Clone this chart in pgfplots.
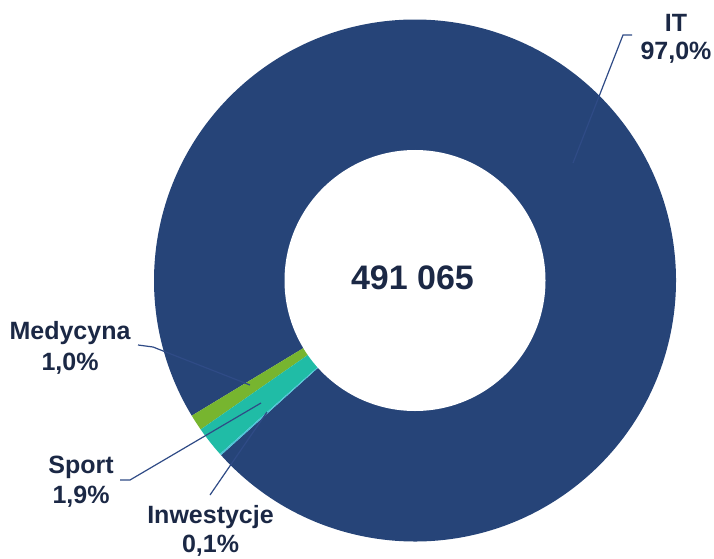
\documentclass[border=0pt]{standalone}
\usepackage{pgfplots}
\pgfplotsset{compat=1.18}
\usepackage{fontspec}
\setmainfont{Liberation Sans}

\definecolor{itblue}{HTML}{264478}
\definecolor{medgreen}{HTML}{77B52F}
\definecolor{sportteal}{HTML}{20BCA6}
\definecolor{invcyan}{HTML}{4CC4D8}
\definecolor{labeltext}{HTML}{1B2845}
\definecolor{leader}{HTML}{2F4B86}

% shares in percent, laid out counter-clockwise from the Medycyna edge
\def\pMed{1.0}
\def\pSport{1.9}
\def\pInw{0.1}
\def\pIT{97.0}
\def\aStart{211.2}
\pgfmathsetmacro\aMed{\aStart+3.6*\pMed}
\pgfmathsetmacro\aSport{\aMed+3.6*\pSport}
\pgfmathsetmacro\aInw{\aSport+3.6*\pInw}
\pgfmathsetmacro\aIT{\aInw+3.6*\pIT}

\def\Rout{261pt}
\def\Rin{130.5pt}

\begin{document}
\begin{tikzpicture}
\begin{axis}[
    width=714pt, height=558pt,
    scale only axis,
    xmin=0, xmax=714,
    ymin=0, ymax=558,
    hide axis,
    clip=false,
]
\addplot[draw=none] coordinates {(0,0)(714,558)};

% ring slices
\fill[itblue] (axis cs:415,277.5) -- ++(\aInw:\Rout)
    arc[start angle=\aInw, end angle=\aIT, radius=\Rout] -- cycle;
\fill[medgreen] (axis cs:415,277.5) -- ++(\aStart:\Rout)
    arc[start angle=\aStart, end angle=\aMed, radius=\Rout] -- cycle;
\fill[sportteal] (axis cs:415,277.5) -- ++(\aMed:\Rout)
    arc[start angle=\aMed, end angle=\aSport, radius=\Rout] -- cycle;
\fill[invcyan] (axis cs:415,277.5) -- ++(\aSport:\Rout)
    arc[start angle=\aSport, end angle=\aInw, radius=\Rout] -- cycle;
\fill[white] (axis cs:415,277.5) circle[radius=\Rin];

% total in the middle
\node[anchor=base, inner sep=0, text=labeltext,
      font=\fontsize{34}{40}\selectfont\bfseries] at (axis cs:412.5,269) {491 065};

% leader lines
\draw[leader, line width=1.2pt] (axis cs:573,395) -- (axis cs:623,523) -- (axis cs:632,523);
\draw[leader, line width=1.2pt] (axis cs:138,213) -- (axis cs:153,211) -- (axis cs:250,173);
\draw[leader, line width=1.2pt] (axis cs:120,78) -- (axis cs:130,78) -- (axis cs:261,155);
\draw[leader, line width=1.2pt] (axis cs:210,63) -- (axis cs:267,146);

% labels
\tikzset{lbl/.style={anchor=base, inner sep=0, text=labeltext,
    font=\fontsize{25}{29}\selectfont\bfseries}}
\node[lbl] at (axis cs:676,526) {IT};
\node[lbl] at (axis cs:676,498) {97,0\%};
\node[lbl] at (axis cs:70,219) {Medycyna};
\node[lbl] at (axis cs:70,188) {1,0\%};
\node[lbl] at (axis cs:81,85) {Sport};
\node[lbl] at (axis cs:81,55) {1,9\%};
\node[lbl] at (axis cs:210.5,35) {Inwestycje};
\node[lbl] at (axis cs:210.5,6) {0,1\%};
\end{axis}
\pgfresetboundingbox
\path[use as bounding box] (current axis.south west) rectangle (current axis.north east);
\end{tikzpicture}
\end{document}
